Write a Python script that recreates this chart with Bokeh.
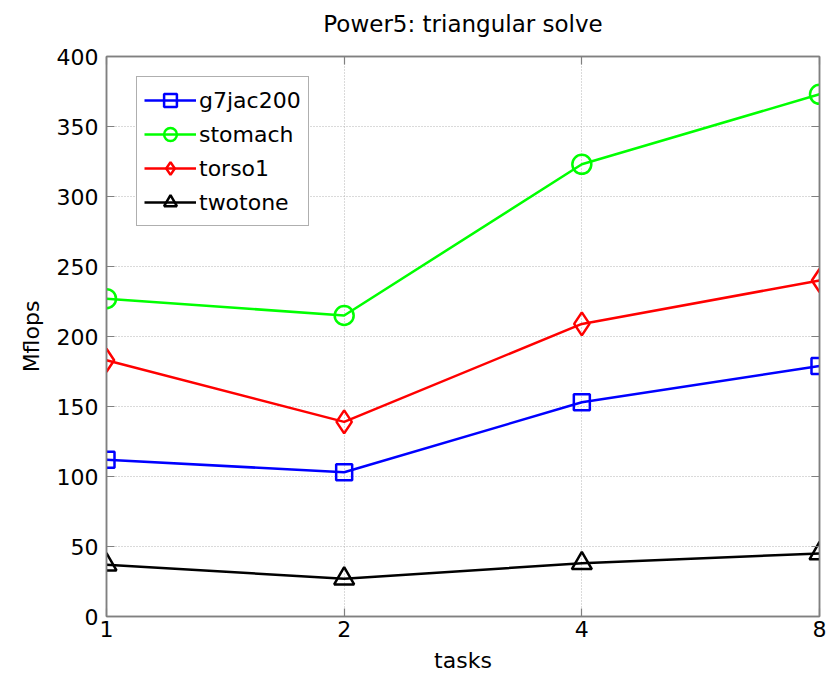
from bokeh.plotting import figure
from bokeh.models import (Range1d, FixedTicker, LinearAxis, LogAxis, Legend,
                          LegendItem, BasicTickFormatter)
from bokeh.embed import file_html
from bokeh.resources import INLINE

tasks = [1, 2, 4, 8]
g7jac200 = [112, 103, 153, 179]
stomach = [227, 215, 323, 373]
torso1 = [183, 139, 209, 240]
twotone = [37, 27, 38, 45]
y_ticks = [0, 50, 100, 150, 200, 250, 300, 350, 400]
title_text = "Power5: triangular solve"

FONT = "DejaVu Sans"
AX = "#808080"

p = figure(width=840, height=675, x_axis_type="log", output_backend="svg",
           toolbar_location=None, x_range=Range1d(1, 8), y_range=Range1d(0, 400),
           min_border_left=106, min_border_right=21, min_border_top=56, min_border_bottom=59)
p.background_fill_color = "white"
p.border_fill_color = "white"
p.outline_line_color = AX
p.outline_line_width = 1.5

xt = FixedTicker(ticks=tasks)
yt = FixedTicker(ticks=y_ticks)

def style(ax):
    ax.axis_line_color = AX
    ax.axis_line_width = 1.5
    ax.major_tick_line_color = AX
    ax.major_tick_line_width = 1.2
    ax.major_tick_in = 8
    ax.major_tick_out = 0
    ax.minor_tick_line_color = AX
    ax.minor_tick_line_width = 1.2
    ax.minor_tick_in = 8
    ax.minor_tick_out = 0
    ax.major_label_text_font = FONT
    ax.major_label_text_font_size = "22px"
    ax.major_label_text_color = "black"
    ax.axis_label_text_font = FONT
    ax.axis_label_text_font_size = "22px"
    ax.axis_label_text_font_style = "normal"
    ax.axis_label_text_color = "black"

xa = p.xaxis[0]
xa.ticker = xt
xa.formatter = BasicTickFormatter()
xa.axis_label = "tasks"
style(xa)
xa.major_label_standoff = 4
xa.axis_label_standoff = 8

ya = p.yaxis[0]
ya.ticker = yt
ya.axis_label = "Mflops"
style(ya)
ya.major_label_standoff = 8
ya.axis_label_standoff = 10

# top box edge: unlabeled inward ticks; carries the chart title as its label
top = LogAxis(ticker=FixedTicker(ticks=[], minor_ticks=tasks))
style(top)
top.major_label_standoff = 0
top.major_label_text_font_size = "1px"
top.axis_label = title_text
top.axis_label_text_font_size = "23px"
top.axis_label_standoff = 20
p.add_layout(top, "above")

right = LinearAxis(ticker=FixedTicker(ticks=[], minor_ticks=y_ticks))
style(right)
right.major_label_standoff = 0
right.major_label_text_font_size = "1px"
p.add_layout(right, "right")

for g in (p.xgrid[0], p.ygrid[0]):
    g.grid_line_color = "#b4b4b4"
    g.grid_line_dash = "1 2"
    g.grid_line_width = 1
p.xgrid[0].ticker = xt
p.ygrid[0].ticker = yt

series = [
    ("g7jac200", g7jac200, "#0000ff", "square", 16),
    ("stomach", stomach, "#00ff00", "circle", 19),
    ("torso1", torso1, "#ff0000", "diamond", 23),
    ("twotone", twotone, "#000000", "triangle", 20),
]
items = []
for name, vals, col, mk, sz in series:
    l = p.line(tasks, vals, line_color=col, line_width=2.5)
    s = p.scatter(tasks, vals, marker=mk, size=sz, line_color=col, line_width=2.5,
                  fill_color=None)
    items.append(LegendItem(label=name, renderers=[l, s]))

leg = Legend(items=items, location=(30, 390))
leg.label_text_font = FONT
leg.label_text_font_size = "22px"
leg.label_text_color = "black"
leg.glyph_width = 52
leg.glyph_height = 32
leg.label_height = 32
leg.label_standoff = 3
leg.spacing = 2
leg.padding = 7
leg.margin = 0
leg.border_line_color = "#606060"
leg.border_line_width = 1.5
leg.background_fill_color = "white"
leg.background_fill_alpha = 1
p.add_layout(leg, "center")

open("out.html", "w").write(file_html(p, INLINE))
